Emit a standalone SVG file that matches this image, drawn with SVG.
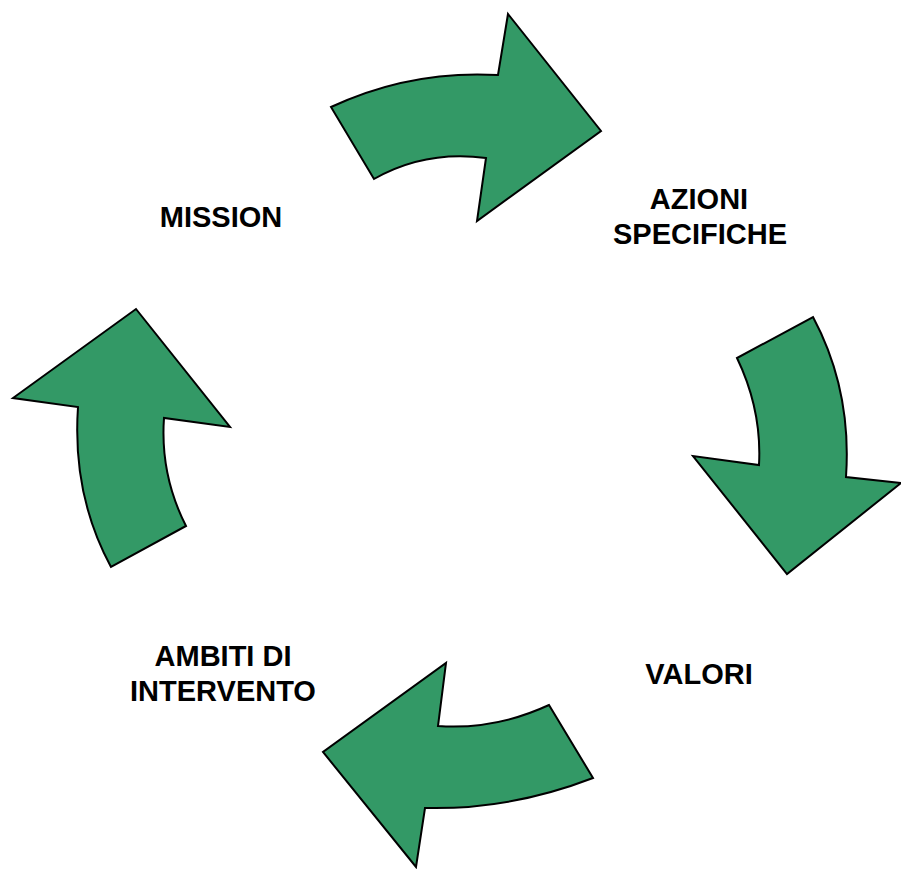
<svg xmlns="http://www.w3.org/2000/svg" width="901" height="869" viewBox="0 0 901 869">
  <style>
    .arrow { fill: #339966; stroke: #000; stroke-width: 2; stroke-linejoin: miter; }
    .label { font-family: "Liberation Sans", Arial, sans-serif; font-weight: bold; font-size: 29px; fill: #000; text-anchor: middle; }
  </style>
  <rect width="901" height="869" fill="#fff"/>

  <!-- curved cycle arrows -->
  <g id="connectors">
    <path id="arrow-top" class="arrow" d="M331,107 Q410,70 498,75 L508,14 L601,131 L477,221 L486,158 Q425,150 374,179 Z"/>
    <path id="arrow-right" class="arrow" d="M813,317 Q852,390 846,477 L901,483 L787,574 L693,456 L759,465 Q762,410 737,358 Z"/>
    <path id="arrow-bottom" class="arrow" d="M593,778 Q510,810 425,808 L416,867 L323,752 L446,663 L438,726 Q495,730 549,705 Z"/>
    <path id="arrow-left" class="arrow" d="M111,567 Q72,495 78,407 L13,398 L136,309 L230,427 L164,418 Q160,475 186,526 Z"/>
  </g>

  <g id="mission">
    <text class="label" x="221" y="227">MISSION</text>
  </g>
  <g id="azioni-specifiche">
    <text class="label" x="699" y="209">AZIONI</text>
    <text class="label" x="700" y="244">SPECIFICHE</text>
  </g>
  <g id="valori">
    <text class="label" x="699" y="684">VALORI</text>
  </g>
  <g id="ambiti-di-intervento">
    <text class="label" x="223" y="666">AMBITI DI</text>
    <text class="label" x="223" y="701">INTERVENTO</text>
  </g>
</svg>
